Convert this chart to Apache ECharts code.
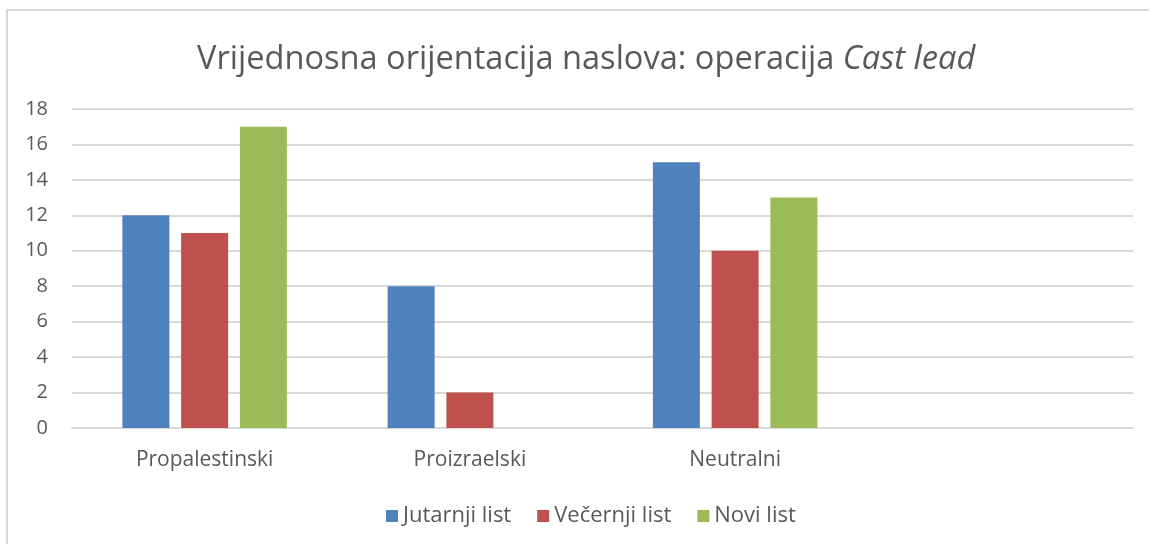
<!DOCTYPE html>
<html>
<head>
<meta charset="utf-8">
<script src="https://cdn.jsdelivr.net/npm/echarts@6/dist/echarts.min.js"></script>
<style>
  html, body { margin: 0; padding: 0; background: #fff; }
  #chart { width: 1149px; height: 544px; }
</style>
</head>
<body>
<div id="chart"></div>
<script>
  // podaci
  const categories = ['Propalestinski', 'Proizraelski', 'Neutralni', ''];
  const seriesNames = ['Jutarnji list', 'Večernji list', 'Novi list'];
  const jutarnji = [12, 8, 15, null];
  const vecernji = [11, 2, 10, null];
  const novi = [17, 0, 13, null];
  const yTicks = [0, 18, 2];  // min, max, interval

  const colors = ['#4f81bd', '#c0504d', '#9bbb59'];
  const txt = '#595959';
  const font = '"Open Sans", "Noto Sans", sans-serif';

  let myChart = echarts.init(document.getElementById('chart'));

  let makeBar = (name, data, i) => ({
    name: name,
    type: 'bar',
    barWidth: 47,
    barGap: '25%',
    itemStyle: { color: colors[i] },
    data: data
  });

  let options = {
    backgroundColor: '#fff',
    color: colors,
    textStyle: { fontFamily: font },
    graphic: [{
      type: 'rect',
      shape: { x: 7, y: 10, width: 1300, height: 700 },
      style: { fill: 'none', stroke: '#d9d9d9', lineWidth: 2 },
      silent: true
    }],
    title: {
      text: '{n|Vrijednosna orijentacija naslova: operacija }{i|Cast lead}',
      left: 192,
      top: 38,
      textStyle: {
        fontWeight: 'normal',
        rich: {
          n: { fontSize: 32.6, color: txt, fontFamily: font, fontWeight: 'normal' },
          i: { fontSize: 32.6, color: txt, fontFamily: font, fontWeight: 'normal', fontStyle: 'italic' }
        }
      }
    },
    legend: {
      top: 500,
      left: 381,
      itemWidth: 12,
      itemHeight: 12,
      itemGap: 26,
      icon: 'rect',
      textStyle: { fontSize: 22, color: txt, fontFamily: font },
      data: seriesNames
    },
    grid: { left: 72, right: 16, top: 109, bottom: 116 },
    xAxis: {
      type: 'category',
      data: categories,
      axisLine: { show: true, lineStyle: { color: '#d9d9d9', width: 2 } },
      axisTick: { show: false },
      axisLabel: { fontSize: 21, color: txt, margin: 22, fontFamily: font }
    },
    yAxis: {
      type: 'value',
      min: yTicks[0],
      max: yTicks[1],
      interval: yTicks[2],
      axisLine: { show: false },
      axisTick: { show: false },
      axisLabel: { fontSize: 20, color: txt, margin: 24, fontFamily: font },
      splitLine: { lineStyle: { color: '#d9d9d9', width: 2 } }
    },
    series: [
      makeBar(seriesNames[0], jutarnji, 0),
      makeBar(seriesNames[1], vecernji, 1),
      makeBar(seriesNames[2], novi, 2)
    ]
  };

  myChart.setOption(options);
</script>
</body>
</html>
